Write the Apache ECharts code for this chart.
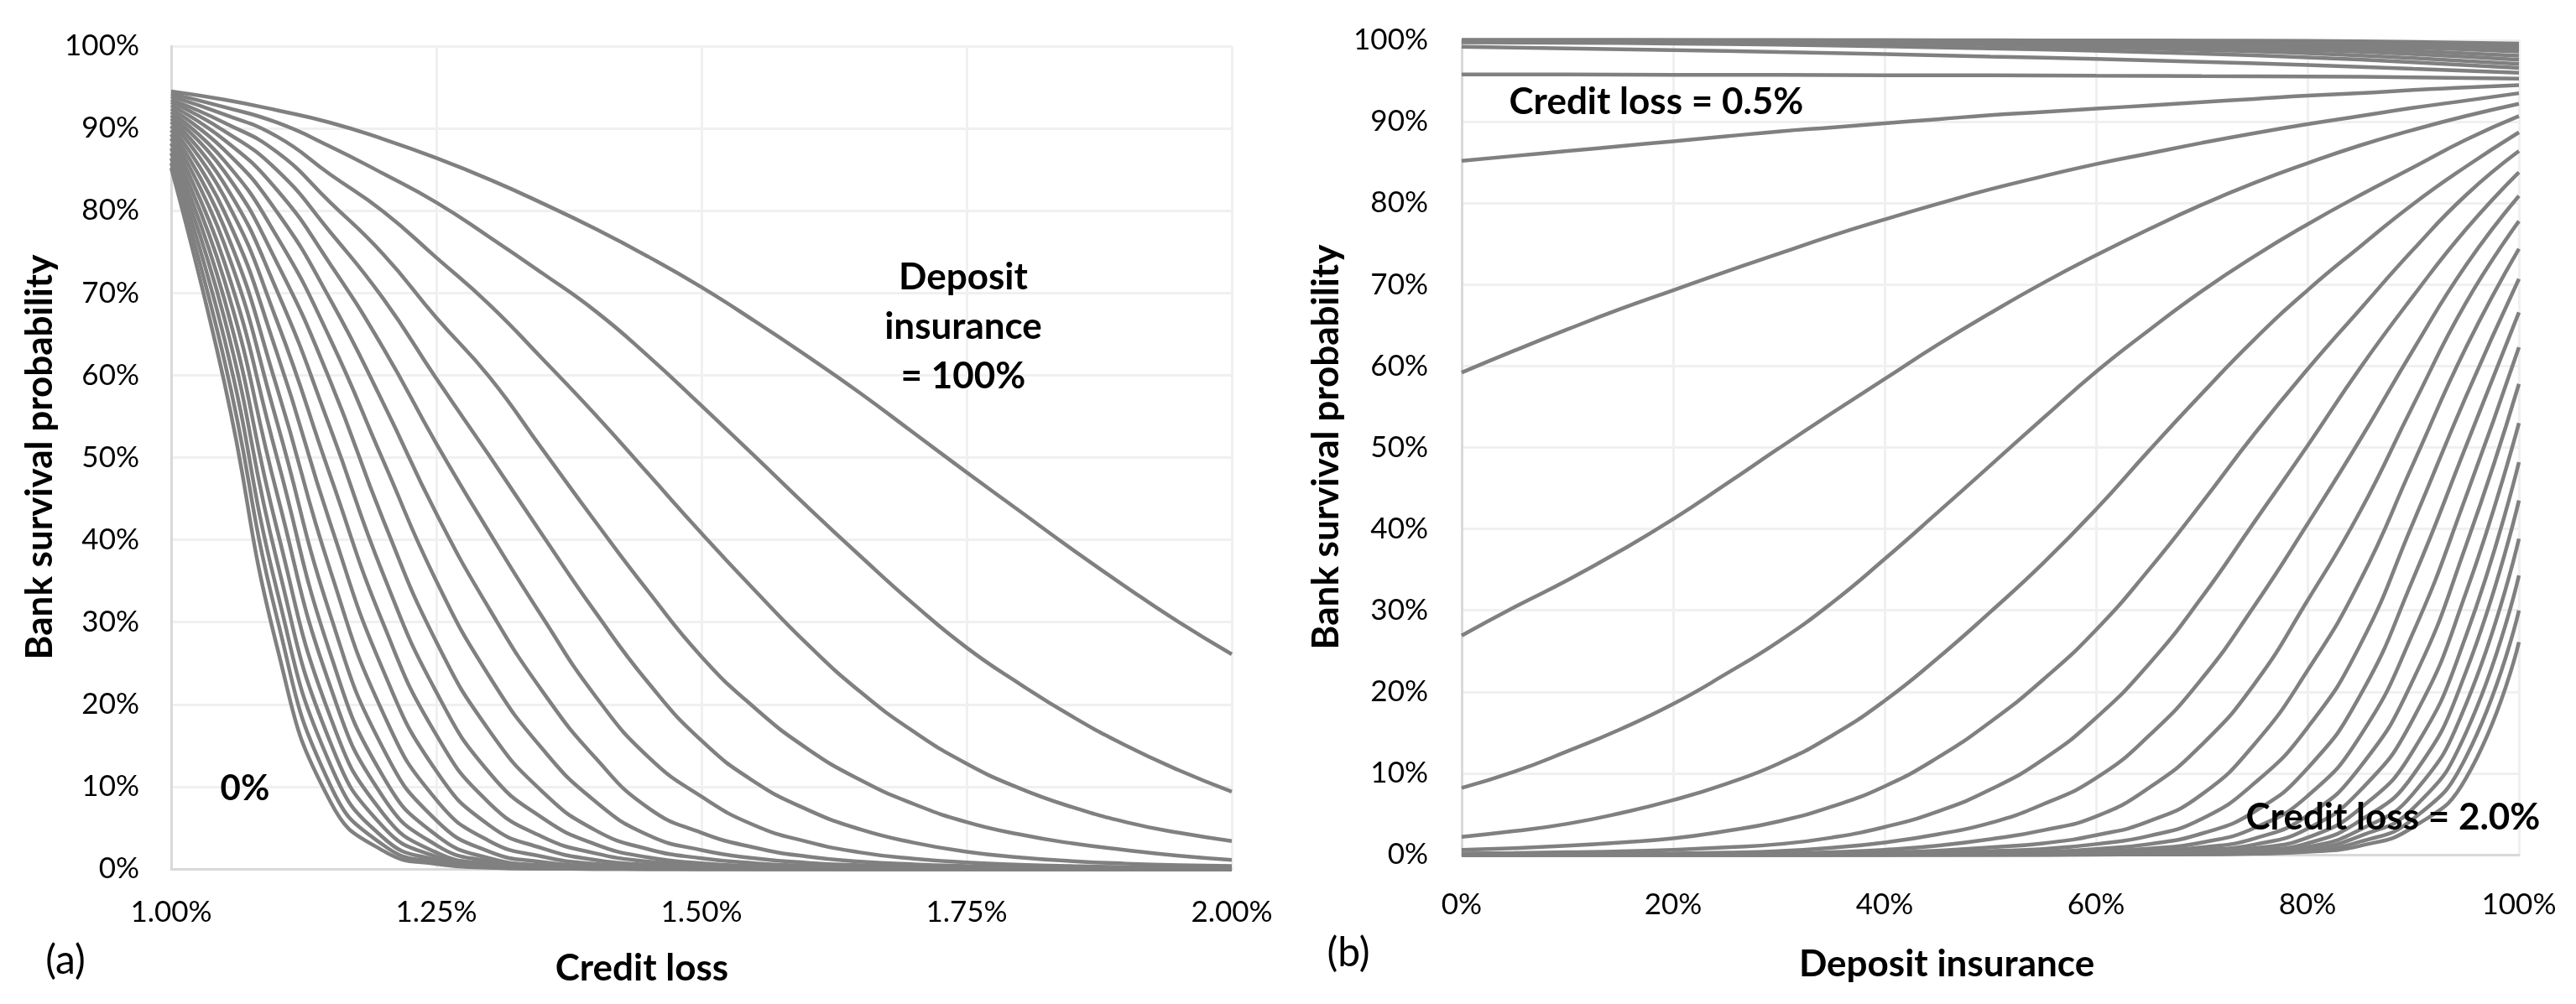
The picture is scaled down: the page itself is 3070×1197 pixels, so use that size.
<!DOCTYPE html>
<html lang="en">
<head>
<meta charset="UTF-8">
<title>Bank survival probability</title>
<style>
    html, body { margin: 0; padding: 0; background: #fff; }
    #chart { width: 3070px; height: 1197px; }
</style>
</head>
<body>
<div id="chart"></div>

<script src="https://cdn.jsdelivr.net/npm/echarts@6.0.0/dist/echarts.min.js"></script>
<script>
    // credit loss (%) sampled along panel (a)
    var lossGrid = [1.00, 1.05, 1.10, 1.15, 1.20, 1.25, 1.30, 1.35, 1.40, 1.45, 1.50,
        1.55, 1.60, 1.65, 1.70, 1.75, 1.80, 1.85, 1.90, 1.95, 2.00];
    // deposit insurance (%) sampled along panel (b)
    var insGrid = [0, 5, 10, 15, 20, 25, 30, 35, 40, 45, 50, 55, 60, 65, 70, 75, 80, 85, 90, 95, 100];
    var insCoarse = [0, 10, 20, 30, 40, 50, 60, 70, 80, 90, 100];

    var lossTicks = [1.00, 1.25, 1.50, 1.75, 2.00];
    var insTicks = [0, 20, 40, 60, 80, 100];

    // survival probability (%) at each credit loss, one list per deposit insurance level
    var di0   = [85.2, 59.2, 26.9, 8.2, 2.2, 0.6, 0.15, 0.04, 0.01, 0, 0, 0, 0, 0, 0, 0, 0, 0, 0, 0, 0];
    var di5   = [85.8, 61.9, 30.4, 10.2, 2.9, 0.8, 0.2, 0.05, 0.01, 0, 0, 0, 0, 0, 0, 0, 0, 0, 0, 0, 0];
    var di10  = [86.4, 64.5, 33.7, 12.7, 3.8, 1.1, 0.3, 0.07, 0.02, 0.01, 0, 0, 0, 0, 0, 0, 0, 0, 0, 0, 0];
    var di15  = [87.0, 67.0, 37.3, 15.4, 5.1, 1.5, 0.4, 0.1, 0.03, 0.01, 0, 0, 0, 0, 0, 0, 0, 0, 0, 0, 0];
    var di20  = [87.6, 69.3, 41.2, 18.5, 6.7, 2.0, 0.6, 0.15, 0.05, 0.02, 0.01, 0, 0, 0, 0, 0, 0, 0, 0, 0, 0];
    var di25  = [88.2, 71.6, 45.5, 22.2, 8.7, 2.9, 0.9, 0.25, 0.08, 0.03, 0.01, 0, 0, 0, 0, 0, 0, 0, 0, 0, 0];
    var di30  = [88.8, 73.8, 49.9, 26.2, 11.2, 4.1, 1.3, 0.45, 0.17, 0.06, 0.02, 0.01, 0, 0, 0, 0, 0, 0, 0, 0, 0];
    var di35  = [89.3, 76.0, 54.2, 30.9, 14.6, 5.9, 2.1, 0.85, 0.32, 0.14, 0.06, 0.03, 0.01, 0, 0, 0, 0, 0, 0, 0, 0];
    var di40  = [89.8, 78.0, 58.4, 36.3, 18.9, 8.4, 3.4, 1.5, 0.6, 0.27, 0.13, 0.06, 0.03, 0.01, 0.01, 0, 0, 0, 0, 0, 0];
    var di45  = [90.3, 79.9, 62.6, 42.0, 24.1, 11.9, 5.3, 2.5, 1.1, 0.5, 0.25, 0.12, 0.06, 0.03, 0.02, 0.01, 0, 0, 0, 0, 0];
    var di50  = [90.8, 81.7, 66.5, 47.8, 29.8, 16.3, 8.0, 3.9, 1.9, 0.9, 0.45, 0.22, 0.12, 0.06, 0.04, 0.02, 0.01, 0.01, 0, 0, 0];
    var di55  = [91.2, 83.3, 70.2, 53.6, 35.8, 21.5, 11.7, 6.2, 3.0, 1.4, 0.7, 0.35, 0.2, 0.11, 0.06, 0.04, 0.02, 0.01, 0.01, 0, 0];
    var di60  = [91.6, 84.8, 73.6, 59.3, 42.4, 27.6, 16.8, 9.4, 4.7, 2.4, 1.3, 0.7, 0.4, 0.23, 0.14, 0.09, 0.055, 0.035, 0.02, 0.015, 0.01];
    var di65  = [92.0, 86.1, 76.8, 64.4, 49.6, 35.0, 23.4, 14.6, 8.2, 4.1, 2.3, 1.3, 0.75, 0.45, 0.28, 0.18, 0.12, 0.08, 0.05, 0.035, 0.025];
    var di70  = [92.4, 87.4, 79.8, 69.2, 56.6, 43.2, 31.6, 21.6, 13.5, 7.4, 4.4, 2.6, 1.5, 0.9, 0.56, 0.36, 0.24, 0.16, 0.11, 0.07, 0.05];
    var di75  = [92.8, 88.6, 82.5, 73.5, 63.3, 51.7, 40.9, 30.6, 21.0, 13.6, 8.8, 5.3, 3.3, 2.0, 1.25, 0.8, 0.52, 0.35, 0.24, 0.17, 0.12];
    var di80  = [93.2, 89.7, 84.9, 77.4, 69.3, 59.6, 50.2, 40.6, 31.2, 22.6, 15.6, 10.6, 7.2, 4.8, 3.2, 2.1, 1.4, 0.95, 0.65, 0.45, 0.35];
    var di85  = [93.5, 90.7, 87.1, 81.0, 74.7, 67.0, 59.8, 51.0, 42.2, 33.7, 25.8, 19.6, 14.6, 10.8, 7.9, 5.7, 4.2, 3.1, 2.3, 1.6, 1.1];
    var di90  = [93.9, 91.7, 89.0, 84.4, 79.9, 74.3, 68.6, 62.0, 55.2, 48.0, 40.8, 33.9, 27.3, 21.5, 16.7, 12.8, 9.8, 7.5, 5.7, 4.4, 3.4];
    var di95  = [94.2, 92.6, 90.7, 87.8, 84.5, 81.0, 76.8, 72.4, 67.8, 62.3, 56.3, 50.2, 44.0, 38.0, 32.2, 26.9, 22.5, 18.5, 15.0, 12.0, 9.4];
    var di100 = [94.5, 93.5, 92.2, 90.7, 88.7, 86.4, 83.8, 80.9, 77.8, 74.4, 70.7, 66.6, 62.3, 57.8, 53.0, 48.2, 43.5, 38.8, 34.3, 30.0, 26.1];

    // panel (b) only: credit loss 0.50% .. 0.95%, at insCoarse
    var cl050 = [100, 100, 100, 100, 100, 99.99, 99.98, 99.96, 99.92, 99.8, 99.6];
    var cl055 = [100, 100, 100, 100, 99.99, 99.98, 99.95, 99.9, 99.8, 99.6, 99.3];
    var cl060 = [100, 100, 100, 99.99, 99.98, 99.95, 99.9, 99.8, 99.6, 99.4, 99.0];
    var cl065 = [100, 100, 99.99, 99.98, 99.95, 99.9, 99.8, 99.6, 99.4, 99.1, 98.6];
    var cl070 = [99.99, 99.99, 99.98, 99.95, 99.9, 99.8, 99.65, 99.45, 99.15, 98.7, 98.1];
    var cl075 = [99.98, 99.97, 99.95, 99.9, 99.8, 99.65, 99.45, 99.15, 98.8, 98.3, 97.6];
    var cl080 = [99.93, 99.9, 99.85, 99.75, 99.6, 99.4, 99.1, 98.8, 98.4, 97.8, 97.1];
    var cl085 = [99.75, 99.7, 99.6, 99.45, 99.25, 99.0, 98.7, 98.35, 97.9, 97.3, 96.6];
    var cl090 = [99.2, 99.0, 98.8, 98.55, 98.3, 98.0, 97.7, 97.35, 96.95, 96.5, 96.0];
    var cl095 = [95.8, 95.8, 95.75, 95.75, 95.7, 95.7, 95.65, 95.6, 95.55, 95.45, 95.3];

    var insCurves = [di0, di5, di10, di15, di20, di25, di30, di35, di40, di45, di50,
        di55, di60, di65, di70, di75, di80, di85, di90, di95, di100];
    var lowLossCurves = [cl050, cl055, cl060, cl065, cl070, cl075, cl080, cl085, cl090, cl095];

    var LINE = '#808080';
    var FONT = 'Lato';

    function lineSeries(axis, data) {
        return {
            type: 'line',
            xAxisIndex: axis,
            yAxisIndex: axis,
            data: data,
            symbol: 'none',
            smooth: 0.5,
            clip: false,
            silent: true,
            lineStyle: {color: LINE, width: 4.5}
        };
    }

    var series = [];
    // (a) one curve per deposit insurance level
    insCurves.forEach(function (c) {
        series.push(lineSeries(0, lossGrid.map(function (x, i) { return [x, c[i]]; })));
    });
    // (b) one curve per credit loss level
    lowLossCurves.forEach(function (c) {
        series.push(lineSeries(1, insCoarse.map(function (x, i) { return [x, c[i]]; })));
    });
    lossGrid.forEach(function (loss, j) {
        series.push(lineSeries(1, insGrid.map(function (x, k) { return [x, insCurves[k][j]]; })));
    });

    function axisBase(min, max, interval, fmt, margin) {
        return {
            type: 'value',
            min: min,
            max: max,
            interval: interval,
            axisLine: {show: true, lineStyle: {color: '#d9d9d9', width: 3}},
            axisTick: {show: false},
            splitLine: {show: true, lineStyle: {color: '#f0f0f0', width: 3}},
            axisLabel: {
                formatter: fmt,
                fontFamily: FONT,
                fontSize: 35,
                color: '#000',
                margin: margin
            }
        };
    }

    function txt(x, y, text, font, rot) {
        return {
            type: 'text',
            x: x,
            y: y,
            rotation: rot || 0,
            z: 100,
            silent: true,
            style: {
                text: text,
                font: font,
                fill: '#000',
                align: 'center',
                verticalAlign: 'middle',
                textAlign: 'center',
                textVerticalAlign: 'middle',
                lineHeight: 59
            }
        };
    }

    var BOLD = 'bold 44px ' + FONT;

    var option = {
        animation: false,
        backgroundColor: '#fff',
        grid: [
            {left: 204, right: 1602, top: 55, bottom: 161},
            {left: 1742, right: 68, top: 48, bottom: 178}
        ],
        xAxis: [
            Object.assign(axisBase(lossTicks[0], lossTicks[lossTicks.length - 1], 0.25,
                function (v) { return v.toFixed(2) + '%'; }, 34), {gridIndex: 0}),
            Object.assign(axisBase(insTicks[0], insTicks[insTicks.length - 1], 20,
                '{value}%', 42), {gridIndex: 1})
        ],
        yAxis: [
            Object.assign(axisBase(0, 100, 10, '{value}%', 38), {gridIndex: 0}),
            Object.assign(axisBase(0, 100, 10, '{value}%', 40), {gridIndex: 1})
        ],
        series: series,
        graphic: [
            txt(48, 545, 'Bank survival probability', BOLD, Math.PI / 2),
            txt(1581, 533, 'Bank survival probability', BOLD, Math.PI / 2),
            txt(765, 1155, 'Credit loss', BOLD),
            txt(2320, 1150, 'Deposit insurance', BOLD),
            txt(78, 1146, '(a)', '48px ' + FONT),
            txt(1607, 1137, '(b)', '48px ' + FONT),
            txt(292, 940, '0%', 'bold 42px ' + FONT),
            txt(1148, 390, 'Deposit\ninsurance\n= 100%', BOLD),
            txt(1974, 122, 'Credit loss = 0.5%', BOLD),
            txt(2852, 975, 'Credit loss = 2.0%', BOLD)
        ]
    };

    var myChart = echarts.init(document.getElementById('chart'));
    myChart.setOption(option);
</script>
</body>
</html>
